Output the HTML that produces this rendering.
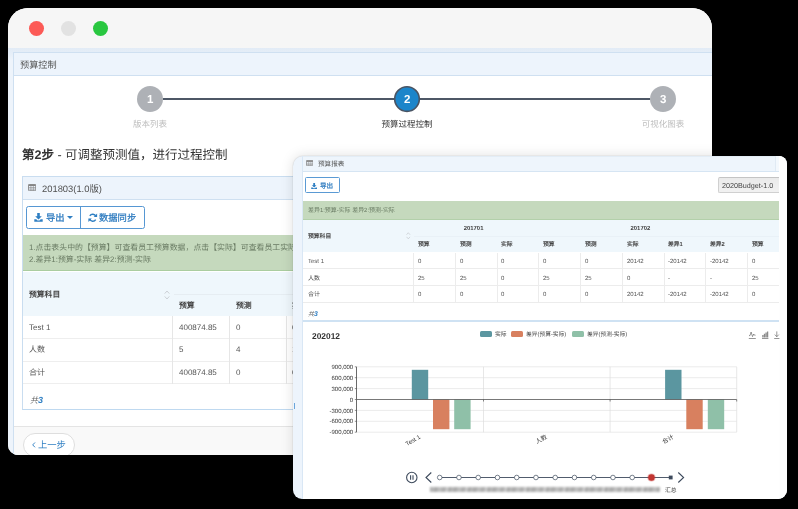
<!DOCTYPE html>
<html lang="zh-CN"><head><meta charset="utf-8">
<style>
*{box-sizing:border-box;margin:0;padding:0}
html,body{width:798px;height:509px;background:#000;overflow:hidden}
body{text-rendering:geometricPrecision;font-family:"Liberation Sans",sans-serif;position:relative;color:#444}
.abs{position:absolute}
.t{position:absolute;white-space:nowrap;line-height:1}
#w1{position:absolute;left:8px;top:8px;width:704px;height:446.8px;background:#fff;border-radius:20px 20px 9px 10px;overflow:hidden}
#w2{position:absolute;left:293.1px;top:155.5px;width:493.9px;height:343px;background:#edf4fc;border-radius:10px 8px 9px 9px;overflow:hidden;box-shadow:0 0 13px rgba(0,0,0,.13),0 0 1.5px rgba(0,0,0,.22)}
#w2 .t{margin-top:1.1px}
.t,svg{will-change:transform}
</style></head><body>
<!-- ============ WINDOW 1 ============ -->
<div id="w1">
  <div class="abs" style="left:0;top:0;width:704px;height:39.8px;background:#f6f6f6"></div>
  <div class="abs" style="left:21px;top:12.8px;width:15px;height:15px;border-radius:50%;background:#fc5a56"></div>
  <div class="abs" style="left:53px;top:12.8px;width:15px;height:15px;border-radius:50%;background:#e2e2e2"></div>
  <div class="abs" style="left:85px;top:12.8px;width:15px;height:15px;border-radius:50%;background:#29c740"></div>
  <!-- pale frame -->
  <div class="abs" style="left:0;top:39.8px;width:704px;height:408px;background:linear-gradient(#e2ebf6 0,#e4edf7 4px,#eef4fb 12px)"></div>
  <!-- main panel -->
  <div class="abs" style="left:4.5px;top:43.6px;width:700px;height:403px;background:#fff;border:1px solid #cfe0f1"></div>
  <div class="abs" style="left:5.5px;top:44.6px;width:699px;height:23px;background:#edf4fc;border-bottom:1px solid #cfe0f1"></div>
  <div class="t" style="left:12px;top:52.7px;font-size:9.2px;color:#555">预算控制</div>
  <!-- steps -->
  <div class="abs" style="left:155px;top:90px;width:487px;height:2px;background:#4d5766"></div>
  <div class="abs" style="left:129px;top:77.8px;width:26.2px;height:26.2px;border-radius:50%;background:#aeb1b6"></div>
  <div class="t" style="left:129px;top:86.6px;width:26.2px;text-align:center;font-size:11.5px;font-weight:bold;color:#fff">1</div>
  <svg class="abs" style="left:384.8px;top:76.8px" width="28" height="28" viewBox="0 0 28 28"><circle cx="14" cy="14.1" r="12.3" fill="#1c85ca" stroke="#4a5463" stroke-width="1.6"/></svg>
  <div class="t" style="left:385.5px;top:86.6px;width:26.2px;text-align:center;font-size:11.5px;font-weight:bold;color:#fff">2</div>
  <div class="abs" style="left:642px;top:77.8px;width:26.2px;height:26.2px;border-radius:50%;background:#aeb1b6"></div>
  <div class="t" style="left:642px;top:86.6px;width:26.2px;text-align:center;font-size:11.5px;font-weight:bold;color:#fff">3</div>
  <div class="t" style="left:92px;top:112.2px;width:100px;text-align:center;font-size:8.5px;color:#bdbdbd">版本列表</div>
  <div class="t" style="left:348.8px;top:112.2px;width:100px;text-align:center;font-size:8.5px;color:#333">预算过程控制</div>
  <div class="t" style="left:605px;top:112.2px;width:100px;text-align:center;font-size:8.5px;color:#bdbdbd">可视化图表</div>
  <!-- heading -->
  <div class="t" style="left:14px;top:140.5px;font-size:12.5px;color:#333"><b>第2步</b> - 可调整预测值，进行过程控制</div>
  <!-- inner panel -->
  <div class="abs" style="left:14px;top:168px;width:690px;height:233.8px;background:#fff;border:1px solid #c9ddf0;border-bottom:1.6px solid #bfd9f0"></div>
  <div class="abs" style="left:15px;top:169px;width:689px;height:22.5px;background:#edf4fc;border-bottom:1px solid #cfe0f1"></div>
  <svg class="abs" style="left:20.4px;top:175.6px" width="8.2" height="7.2" viewBox="0 0 9 7.9"><rect x="0.5" y="0.5" width="8" height="6.9" rx="0.9" fill="none" stroke="#858585" stroke-width="1"/><rect x="0.5" y="0.5" width="8" height="1.7" fill="#858585"/><path d="M0.5 3.9h8M0.5 5.6h8M3.2 2v5.4M5.9 2v5.4" stroke="#858585" stroke-width="0.65"/></svg>
  <div class="t" style="left:34.3px;top:175.8px;font-size:9.4px;color:#505050">201803(1.0版)</div>
  <!-- buttons -->
  <div class="abs" style="left:18px;top:198px;width:119px;height:22.5px;border:1px solid #5697d3;border-radius:2.5px;background:#fff"></div>
  <div class="abs" style="left:72px;top:198px;width:1px;height:22.5px;background:#5697d3"></div>
  <svg class="abs" style="left:26px;top:205px" width="9" height="9" viewBox="0 0 9 9"><path d="M3.2 0h2.6v3.2h2L4.5 6.4 1.2 3.2h2z" fill="#2f7fc3"/><path d="M0.3 6.3h2l1.2 1.1h2l1.2-1.1h2V8.7H0.3z" fill="#2f7fc3"/></svg>
  <div class="t" style="left:37.5px;top:205.6px;font-size:9.3px;color:#2c7abf;-webkit-text-stroke:0.25px #2c7abf">导出</div>
  <div class="abs" style="left:58.8px;top:208px;width:0;height:0;border-left:3px solid transparent;border-right:3px solid transparent;border-top:3.4px solid #2f7fc3"></div>
  <svg class="abs" style="left:79.5px;top:205px" width="9.5" height="9.5" viewBox="0 0 10 10"><path d="M8.3 3.6A3.6 3.6 0 0 0 1.9 3" fill="none" stroke="#2f7fc3" stroke-width="1.5"/><path d="M1.7 6.4A3.6 3.6 0 0 0 8.1 7" fill="none" stroke="#2f7fc3" stroke-width="1.5"/><path d="M9.6 0.6v3.6H6z" fill="#2f7fc3"/><path d="M0.4 9.4V5.8H4z" fill="#2f7fc3"/></svg>
  <div class="t" style="left:91px;top:205.6px;font-size:9.3px;color:#2c7abf;-webkit-text-stroke:0.25px #2c7abf">数据同步</div>
  <!-- alert -->
  <div class="abs" style="left:15px;top:226.9px;width:689px;height:36.6px;background:#c5d9bd;border-bottom:1px solid #aacda0"></div>
  <div class="t" style="left:21px;top:236.3px;font-size:7.9px;color:#687a62">1.点击表头中的【预算】可查看员工预算数据，点击【实际】可查看员工实际数据</div>
  <div class="t" style="left:21px;top:247.6px;font-size:7.9px;color:#687a62">2.差异1:预算-实际 差异2:预测-实际</div>
  <!-- table -->
  <div class="abs" style="left:15px;top:264px;width:689px;height:44px;background:#eff7fc"></div>
  <div class="abs" style="left:166px;top:285.5px;width:540px;height:1px;background:#e6edf2"></div>
  <div class="t" style="left:21px;top:283.0px;font-size:7.8px;font-weight:bold;color:#444">预算科目</div>
  <svg class="abs" style="left:155.5px;top:281.5px" width="6" height="10" viewBox="0 0 6 10"><path d="M0.7 3.6L3 1l2.3 2.6M0.7 6.4L3 9l2.3-2.6" fill="none" stroke="#c3c7cb" stroke-width="0.8"/></svg>
  <div class="t" style="left:171px;top:294.4px;font-size:7.8px;font-weight:bold;color:#444">预算</div>
  <div class="t" style="left:227.5px;top:294.4px;font-size:7.8px;font-weight:bold;color:#444">预测</div>
  <div class="t" style="left:284px;top:294.4px;font-size:7.8px;font-weight:bold;color:#444">实际</div>
  <!-- rows -->
  <div class="abs" style="left:15px;top:329.8px;width:689px;height:1px;background:#eeeeee"></div>
  <div class="abs" style="left:15px;top:352.8px;width:689px;height:1px;background:#eeeeee"></div>
  <div class="abs" style="left:15px;top:375.3px;width:689px;height:1px;background:#eeeeee"></div>
  <div class="abs" style="left:164.3px;top:308px;width:1px;height:67.5px;background:#e6e6e6"></div>
  <div class="abs" style="left:221.3px;top:308px;width:1px;height:67.5px;background:#e6e6e6"></div>
  <div class="abs" style="left:277.5px;top:308px;width:1px;height:67.5px;background:#e6e6e6"></div>
  <div class="t" style="left:21px;top:315.9px;font-size:8px;color:#555">Test 1</div>
  <div class="t" style="left:21px;top:338.3px;font-size:8px;color:#555">人数</div>
  <div class="t" style="left:21px;top:360.7px;font-size:8px;color:#555">合计</div>
  <div class="t" style="left:171px;top:315.9px;font-size:8px;color:#555">400874.85</div>
  <div class="t" style="left:171px;top:338.3px;font-size:8px;color:#555">5</div>
  <div class="t" style="left:171px;top:360.7px;font-size:8px;color:#555">400874.85</div>
  <div class="t" style="left:227.5px;top:315.9px;font-size:8px;color:#555">0</div>
  <div class="t" style="left:227.5px;top:338.3px;font-size:8px;color:#555">4</div>
  <div class="t" style="left:227.5px;top:360.7px;font-size:8px;color:#555">0</div>
  <div class="t" style="left:284px;top:315.9px;font-size:8px;color:#555">0</div>
  <div class="t" style="left:284px;top:338.3px;font-size:8px;color:#555">1</div>
  <div class="t" style="left:284px;top:360.7px;font-size:8px;color:#555">0</div>
  <div class="t" style="left:22px;top:387.9px;font-size:8px;font-style:italic;color:#666">共<b style="color:#2f7fc3;font-size:9px">3</b></div>
  <!-- footer -->
  <div class="abs" style="left:5.5px;top:418px;width:699px;height:30px;background:#f9f9f9;border-top:1px solid #e4e4e4"></div>
  <div class="abs" style="left:15.3px;top:425.2px;width:51.6px;height:24px;border:1px solid #dedede;border-radius:12px;background:#fff"></div>
  <svg class="abs" style="left:23.7px;top:434.3px" width="3.6" height="5.8" viewBox="0 0 3.6 5.8"><path d="M3 0.5L0.7 2.9l2.3 2.4" fill="none" stroke="#2f7fc3" stroke-width="0.95"/></svg>
  <div class="t" style="left:29.8px;top:433.2px;font-size:9.3px;color:#2f7fc3">上一步</div>
</div>
  <!-- ============ WINDOW 2 ============ -->
  <div id="w2"><div class="abs" style="left:-293.1px;top:-155.5px;width:798px;height:509px">
  <div class="abs" style="left:779.2px;top:155.5px;width:10px;height:343px;background:#fefefe"></div>
  <div class="abs" style="left:302.1px;top:155.5px;width:477.1px;height:343px;background:#fff;border-left:1px solid #d9e7f5"></div>
  <div class="abs" style="left:302.6px;top:155.5px;width:476.6px;height:16px;background:#eef5fc;border-bottom:1px solid #d6e5f3;border-top:1px solid #e3edf6"></div>
  <div class="abs" style="left:775px;top:156px;width:4.2px;height:14.6px;background:#f3f8fd;border-left:1px solid #e0eaf4"></div>
  <svg class="abs" style="left:306.3px;top:159.9px" width="7.4" height="6.2" viewBox="0 0 9 7.4"><rect x="0.5" y="0.5" width="8" height="6.4" rx="0.8" fill="none" stroke="#8a8a8a" stroke-width="1"/><rect x="0.5" y="0.5" width="8" height="1.8" fill="#8a8a8a"/><path d="M0.5 3.9h8M0.5 5.4h8M3.2 2v5M5.9 2v5" stroke="#8a8a8a" stroke-width="0.6"/></svg>
  <div class="t" style="left:317.7px;top:161.2px;font-size:6.6px;color:#555">预算报表</div>
  <div class="abs" style="left:305.1px;top:177.2px;width:34.8px;height:15.7px;border:0.8px solid #5a9ad4;border-radius:1.5px;background:#fff"></div>
  <svg class="abs" style="left:311.4px;top:182.6px" width="6.3" height="6.3" viewBox="0 0 9 9"><path d="M3.2 0h2.6v3.2h2L4.5 6.4 1.2 3.2h2z" fill="#2f7fc3"/><path d="M0.3 6.3h2l1.2 1.1h2l1.2-1.1h2V8.7H0.3z" fill="#2f7fc3"/></svg>
  <div class="t" style="left:319.8px;top:182.7px;font-size:6.6px;color:#2c7abf;-webkit-text-stroke:0.2px #2c7abf">导出</div>
  <div class="abs" style="left:717.8px;top:177.2px;width:61.4px;height:16px;border:1px solid #d0d0d0;border-right:none;border-top-color:#c4c4c4;border-radius:2px 0 0 2px;background:linear-gradient(#eaeaea,#f1f1f1)"></div>
  <div class="t" style="left:722px;top:180.8px;font-size:7.2px;color:#444">2020Budget-1.0</div>
  <div class="abs" style="left:302.6px;top:201.1px;width:476.6px;height:18.8px;background:#c5d9bd;border-bottom:1px solid #b3d0aa"></div>
  <div class="t" style="left:308.1px;top:207.9px;font-size:5.95px;color:#687a62">差异1:预算-实际 差异2:预测-实际</div>
  <div class="abs" style="left:302.6px;top:219.9px;width:476.6px;height:32.6px;background:#eff7fc"></div>
  <div class="abs" style="left:414px;top:235.8px;width:365.2px;height:1px;background:#e9f1f7"></div>
  <div class="t" style="left:307.6px;top:233.7px;font-size:5.8px;font-weight:bold;color:#444">预算科目</div>
  <svg class="abs" style="left:406.2px;top:232.2px" width="4.6" height="7.6" viewBox="0 0 6 10"><path d="M0.7 3.6L3 1l2.3 2.6M0.7 6.4L3 9l2.3-2.6" fill="none" stroke="#c3c7cb" stroke-width="0.9"/></svg>
  <div class="t" style="left:411.2px;top:225.5px;width:125.2px;text-align:center;font-size:5.9px;font-weight:bold;color:#444">201701</div>
  <div class="t" style="left:536px;top:225.5px;width:208.8px;text-align:center;font-size:5.9px;font-weight:bold;color:#444">201702</div>
  <div class="t" style="left:417.8px;top:242px;font-size:5.8px;font-weight:bold;color:#444">预算</div>
  <div class="t" style="left:459.6px;top:242px;font-size:5.8px;font-weight:bold;color:#444">预测</div>
  <div class="t" style="left:501.3px;top:242px;font-size:5.8px;font-weight:bold;color:#444">实际</div>
  <div class="t" style="left:543.0px;top:242px;font-size:5.8px;font-weight:bold;color:#444">预算</div>
  <div class="t" style="left:584.8px;top:242px;font-size:5.8px;font-weight:bold;color:#444">预测</div>
  <div class="t" style="left:626.5px;top:242px;font-size:5.8px;font-weight:bold;color:#444">实际</div>
  <div class="t" style="left:668.3px;top:242px;font-size:5.8px;font-weight:bold;color:#444">差异1</div>
  <div class="t" style="left:710.0px;top:242px;font-size:5.8px;font-weight:bold;color:#444">差异2</div>
  <div class="t" style="left:751.8px;top:242px;font-size:5.8px;font-weight:bold;color:#444">预算</div>
  <div class="t" style="left:307.8px;top:257.9px;font-size:6px;color:#555">Test 1</div>
  <div class="t" style="left:417.8px;top:257.9px;font-size:6px;color:#555">0</div>
  <div class="t" style="left:459.6px;top:257.9px;font-size:6px;color:#555">0</div>
  <div class="t" style="left:501.3px;top:257.9px;font-size:6px;color:#555">0</div>
  <div class="t" style="left:543.0px;top:257.9px;font-size:6px;color:#555">0</div>
  <div class="t" style="left:584.8px;top:257.9px;font-size:6px;color:#555">0</div>
  <div class="t" style="left:626.5px;top:257.9px;font-size:6px;color:#555">20142</div>
  <div class="t" style="left:668.3px;top:257.9px;font-size:6px;color:#555">-20142</div>
  <div class="t" style="left:710.0px;top:257.9px;font-size:6px;color:#555">-20142</div>
  <div class="t" style="left:751.8px;top:257.9px;font-size:6px;color:#555">0</div>
  <div class="t" style="left:307.8px;top:274.6px;font-size:6px;color:#555">人数</div>
  <div class="t" style="left:417.8px;top:274.6px;font-size:6px;color:#555">25</div>
  <div class="t" style="left:459.6px;top:274.6px;font-size:6px;color:#555">25</div>
  <div class="t" style="left:501.3px;top:274.6px;font-size:6px;color:#555">0</div>
  <div class="t" style="left:543.0px;top:274.6px;font-size:6px;color:#555">25</div>
  <div class="t" style="left:584.8px;top:274.6px;font-size:6px;color:#555">25</div>
  <div class="t" style="left:626.5px;top:274.6px;font-size:6px;color:#555">0</div>
  <div class="t" style="left:668.3px;top:274.6px;font-size:6px;color:#555">-</div>
  <div class="t" style="left:710.0px;top:274.6px;font-size:6px;color:#555">-</div>
  <div class="t" style="left:751.8px;top:274.6px;font-size:6px;color:#555">25</div>
  <div class="t" style="left:307.8px;top:291.3px;font-size:6px;color:#555">合计</div>
  <div class="t" style="left:417.8px;top:291.3px;font-size:6px;color:#555">0</div>
  <div class="t" style="left:459.6px;top:291.3px;font-size:6px;color:#555">0</div>
  <div class="t" style="left:501.3px;top:291.3px;font-size:6px;color:#555">0</div>
  <div class="t" style="left:543.0px;top:291.3px;font-size:6px;color:#555">0</div>
  <div class="t" style="left:584.8px;top:291.3px;font-size:6px;color:#555">0</div>
  <div class="t" style="left:626.5px;top:291.3px;font-size:6px;color:#555">20142</div>
  <div class="t" style="left:668.3px;top:291.3px;font-size:6px;color:#555">-20142</div>
  <div class="t" style="left:710.0px;top:291.3px;font-size:6px;color:#555">-20142</div>
  <div class="t" style="left:751.8px;top:291.3px;font-size:6px;color:#555">0</div>
  <div class="abs" style="left:302.6px;top:268.0px;width:476.6px;height:1px;background:#ececec"></div>
  <div class="abs" style="left:302.6px;top:284.8px;width:476.6px;height:1px;background:#ececec"></div>
  <div class="abs" style="left:302.6px;top:301.5px;width:476.6px;height:1px;background:#ececec"></div>
  <div class="abs" style="left:413.0px;top:252.5px;width:1px;height:49.5px;background:#ececec"></div>
  <div class="abs" style="left:454.8px;top:252.5px;width:1px;height:49.5px;background:#ececec"></div>
  <div class="abs" style="left:496.5px;top:252.5px;width:1px;height:49.5px;background:#ececec"></div>
  <div class="abs" style="left:538.2px;top:252.5px;width:1px;height:49.5px;background:#ececec"></div>
  <div class="abs" style="left:580.0px;top:252.5px;width:1px;height:49.5px;background:#ececec"></div>
  <div class="abs" style="left:621.8px;top:252.5px;width:1px;height:49.5px;background:#ececec"></div>
  <div class="abs" style="left:663.5px;top:252.5px;width:1px;height:49.5px;background:#ececec"></div>
  <div class="abs" style="left:705.2px;top:252.5px;width:1px;height:49.5px;background:#ececec"></div>
  <div class="abs" style="left:747.0px;top:252.5px;width:1px;height:49.5px;background:#ececec"></div>
  <div class="t" style="left:308.4px;top:310.8px;font-size:6px;font-style:italic;color:#666">共<b style="color:#2f7fc3;font-size:6.8px">3</b></div>
  <div class="abs" style="left:294px;top:403px;width:1px;height:6px;background:#6aa5da"></div>
  <div class="abs" style="left:302.6px;top:320.2px;width:476.6px;height:2px;background:#cfe2f3"></div>
  <div class="t" style="left:311.5px;top:330.6px;font-size:8.4px;font-weight:bold;color:#333">202012</div>
  <div class="abs" style="left:480px;top:330.5px;width:12px;height:6.6px;border-radius:1.5px;background:#5b96a0"></div>
  <div class="t" style="left:495.1px;top:331.6px;font-size:5.75px;color:#444">实际</div>
  <div class="abs" style="left:511.4px;top:330.5px;width:12px;height:6.6px;border-radius:1.5px;background:#d8805f"></div>
  <div class="t" style="left:526.2px;top:331.6px;font-size:5.75px;color:#444">差异(预算-实际)</div>
  <div class="abs" style="left:571.8px;top:330.5px;width:12px;height:6.6px;border-radius:1.5px;background:#8fc0a8"></div>
  <div class="t" style="left:586.6px;top:331.6px;font-size:5.75px;color:#444">差异(预测-实际)</div>
  <svg class="abs" style="left:0;top:0" width="798" height="509" viewBox="0 0 798 509">
  <line x1="357" y1="366.80" x2="736.7" y2="366.80" stroke="#e2e2e2" stroke-width="0.7"/>
  <line x1="354.8" y1="366.80" x2="356.5" y2="366.80" stroke="#444" stroke-width="0.6"/>
  <text x="353.2" y="368.90" font-size="6" text-anchor="end" fill="#333" font-family="Liberation Sans, sans-serif">900,000</text>
  <line x1="357" y1="377.70" x2="736.7" y2="377.70" stroke="#e2e2e2" stroke-width="0.7"/>
  <line x1="354.8" y1="377.70" x2="356.5" y2="377.70" stroke="#444" stroke-width="0.6"/>
  <text x="353.2" y="379.80" font-size="6" text-anchor="end" fill="#333" font-family="Liberation Sans, sans-serif">600,000</text>
  <line x1="357" y1="388.60" x2="736.7" y2="388.60" stroke="#e2e2e2" stroke-width="0.7"/>
  <line x1="354.8" y1="388.60" x2="356.5" y2="388.60" stroke="#444" stroke-width="0.6"/>
  <text x="353.2" y="390.70" font-size="6" text-anchor="end" fill="#333" font-family="Liberation Sans, sans-serif">300,000</text>
  <line x1="354.8" y1="399.50" x2="356.5" y2="399.50" stroke="#444" stroke-width="0.6"/>
  <text x="353.2" y="401.60" font-size="6" text-anchor="end" fill="#333" font-family="Liberation Sans, sans-serif">0</text>
  <line x1="357" y1="410.40" x2="736.7" y2="410.40" stroke="#e2e2e2" stroke-width="0.7"/>
  <line x1="354.8" y1="410.40" x2="356.5" y2="410.40" stroke="#444" stroke-width="0.6"/>
  <text x="353.2" y="412.50" font-size="6" text-anchor="end" fill="#333" font-family="Liberation Sans, sans-serif">-300,000</text>
  <line x1="357" y1="421.30" x2="736.7" y2="421.30" stroke="#e2e2e2" stroke-width="0.7"/>
  <line x1="354.8" y1="421.30" x2="356.5" y2="421.30" stroke="#444" stroke-width="0.6"/>
  <text x="353.2" y="423.40" font-size="6" text-anchor="end" fill="#333" font-family="Liberation Sans, sans-serif">-600,000</text>
  <line x1="357" y1="432.20" x2="736.7" y2="432.20" stroke="#e2e2e2" stroke-width="0.7"/>
  <line x1="354.8" y1="432.20" x2="356.5" y2="432.20" stroke="#444" stroke-width="0.6"/>
  <text x="353.2" y="434.30" font-size="6" text-anchor="end" fill="#333" font-family="Liberation Sans, sans-serif">-900,000</text>
  <line x1="483.5" y1="366.8" x2="483.5" y2="432.2" stroke="#dcdcdc" stroke-width="0.7"/>
  <line x1="610.1" y1="366.8" x2="610.1" y2="432.2" stroke="#dcdcdc" stroke-width="0.7"/>
  <line x1="736.7" y1="366.8" x2="736.7" y2="432.2" stroke="#dcdcdc" stroke-width="0.7"/>
  <line x1="356.5" y1="366.8" x2="356.5" y2="432.2" stroke="#444" stroke-width="0.8"/>
  <rect x="411.8" y="369.80" width="16.4" height="29.70" fill="#5b96a0"/>
  <rect x="433" y="399.50" width="16.4" height="29.70" fill="#d8805f"/>
  <rect x="454.2" y="399.50" width="16.4" height="29.70" fill="#8fc0a8"/>
  <rect x="665.1" y="369.80" width="16.4" height="29.70" fill="#5b96a0"/>
  <rect x="686.3" y="399.50" width="16.4" height="29.70" fill="#d8805f"/>
  <rect x="707.8" y="399.50" width="16.4" height="29.70" fill="#8fc0a8"/>
  <line x1="357" y1="399.50" x2="736.7" y2="399.50" stroke="#555" stroke-width="0.8"/>
  <line x1="483.5" y1="399.50" x2="483.5" y2="401.50" stroke="#555" stroke-width="0.7"/>
  <line x1="610.1" y1="399.50" x2="610.1" y2="401.50" stroke="#555" stroke-width="0.7"/>
  <line x1="736.7" y1="399.50" x2="736.7" y2="401.50" stroke="#555" stroke-width="0.7"/>
  <text transform="translate(419.3,435.3) rotate(-30)" font-size="6" text-anchor="end" dominant-baseline="hanging" fill="#333" font-family="Liberation Sans, sans-serif">Test 1</text>
  <text transform="translate(545.9,435.3) rotate(-30)" font-size="6" text-anchor="end" dominant-baseline="hanging" fill="#333" font-family="Liberation Sans, sans-serif">人数</text>
  <text transform="translate(672.5,435.3) rotate(-30)" font-size="6" text-anchor="end" dominant-baseline="hanging" fill="#333" font-family="Liberation Sans, sans-serif">合计</text>
  <circle cx="411.8" cy="477.5" r="5.2" fill="none" stroke="#3d4a5c" stroke-width="1.1"/>
  <path d="M410.6 475.3v4.4M413 475.3v4.4" stroke="#3d4a5c" stroke-width="1.1"/>
  <path d="M431.3 472.5L426 477.5l5.3 5" fill="none" stroke="#3d4a5c" stroke-width="1.1"/>
  <path d="M678.3 472.5l5.3 5l-5.3 5" fill="none" stroke="#3d4a5c" stroke-width="1.1"/>
  <line x1="439.7" y1="477.5" x2="670.7" y2="477.5" stroke="#3d4a5c" stroke-width="0.9"/>
  <circle cx="439.70" cy="477.5" r="2.3" fill="#fff" stroke="#3d4a5c" stroke-width="0.7"/>
  <circle cx="458.95" cy="477.5" r="2.3" fill="#fff" stroke="#3d4a5c" stroke-width="0.7"/>
  <circle cx="478.20" cy="477.5" r="2.3" fill="#fff" stroke="#3d4a5c" stroke-width="0.7"/>
  <circle cx="497.45" cy="477.5" r="2.3" fill="#fff" stroke="#3d4a5c" stroke-width="0.7"/>
  <circle cx="516.70" cy="477.5" r="2.3" fill="#fff" stroke="#3d4a5c" stroke-width="0.7"/>
  <circle cx="535.95" cy="477.5" r="2.3" fill="#fff" stroke="#3d4a5c" stroke-width="0.7"/>
  <circle cx="555.20" cy="477.5" r="2.3" fill="#fff" stroke="#3d4a5c" stroke-width="0.7"/>
  <circle cx="574.45" cy="477.5" r="2.3" fill="#fff" stroke="#3d4a5c" stroke-width="0.7"/>
  <circle cx="593.70" cy="477.5" r="2.3" fill="#fff" stroke="#3d4a5c" stroke-width="0.7"/>
  <circle cx="612.95" cy="477.5" r="2.3" fill="#fff" stroke="#3d4a5c" stroke-width="0.7"/>
  <circle cx="632.20" cy="477.5" r="2.3" fill="#fff" stroke="#3d4a5c" stroke-width="0.7"/>
  <circle cx="651.45" cy="477.5" r="4.1" fill="#c23531" opacity="0.35"/>
  <circle cx="651.45" cy="477.5" r="3.2" fill="#c23531"/>
  <rect x="668.80" y="475.6" width="3.8" height="3.8" fill="#3d4a5c"/>
  <g fill="none" stroke="#6a6a6a" stroke-width="0.7"><path d="M748.8 338.5h7M749 335.6h1l1.1-3.6 1.4 4.6 1.2-2.6 0.8 1.2h1"/><path d="M762 338.5h6.4"/><path d="M762.9 337.6v-2.6M764.5 337.6v-3.8M766.1 337.6v-5M767.6 337.6v-6" stroke-width="1.3" stroke="#8a8a8a"/><path d="M774.2 338.5h5.2M776.8 331.4v5.4M774.8 334.6l2 2.1 2-2.1"/></g>
  </svg>
  <div class="t" style="left:664.6px;top:487.8px;font-size:5.8px;color:#444">汇总</div>
  <div class="abs" style="left:430px;top:486.6px;width:230px;height:5.4px;filter:blur(1px);background:repeating-linear-gradient(100deg,#a0a0a0 0,#bdbdbd 3px,#a6a6a6 6px,#c4c4c4 10px,#a8a8a8 14px,#d4d4d4 17.8px,#a0a0a0 19.25px)"></div>
  </div></div>
  </body></html>
